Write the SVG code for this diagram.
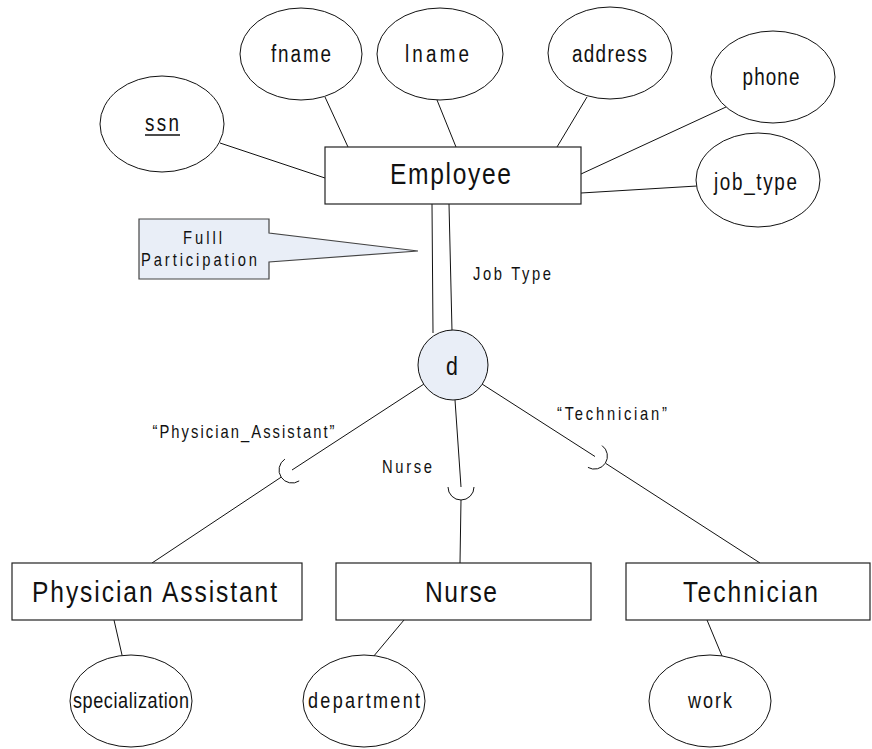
<svg xmlns="http://www.w3.org/2000/svg" width="872" height="749" viewBox="0 0 872 749">
  <style>
    text { font-family: "Liberation Sans", Arial, sans-serif; fill: #111; text-anchor: middle; }
    .ent { font-size: 30px; }
    .att { font-size: 23px; }
    .att2 { font-size: 22px; }
    .lbl { font-size: 18px; }
    .box { fill: #fff; stroke: #222; stroke-width: 1.2; }
    .oval { fill: #fff; stroke: #111; stroke-width: 1; }
    .ln { fill: none; stroke: #111; stroke-width: 1; }
    .note { fill: #e9eef7; stroke: #444; stroke-width: 1.2; }
  </style>

  <!-- Text is condensed horizontally (scale 0.82 about its centre x) to get a narrow face -->

  <!-- connectors -->
  <g id="connectors" class="ln">
    <line x1="220" y1="143" x2="325" y2="178"/>
    <line x1="325" y1="97" x2="348" y2="147"/>
    <line x1="437" y1="100" x2="456" y2="147"/>
    <line x1="587" y1="97" x2="557" y2="147"/>
    <line x1="726" y1="107" x2="581" y2="174"/>
    <line x1="581" y1="193" x2="697" y2="186"/>
    <!-- total participation: double line to the disjoint circle -->
    <line x1="432" y1="204" x2="433" y2="333"/>
    <line x1="449" y1="204" x2="452" y2="331"/>
    <!-- subclass branches with subset marks -->
    <line x1="424" y1="384" x2="292" y2="470"/>
    <path d="M299.2,480.9 A13,13 0 0 1 284.9,459.1"/>
    <line x1="281.1" y1="477.2" x2="152" y2="563"/>
    <line x1="455" y1="400" x2="461" y2="487"/>
    <path d="M474,487 A13,13 0 0 1 448,487"/>
    <line x1="461" y1="500" x2="460" y2="563"/>
    <line x1="482" y1="384" x2="595" y2="456.5"/>
    <path d="M587.95,467.4 A13,13 0 0 0 602.05,445.6"/>
    <line x1="605.9" y1="463.5" x2="760" y2="563"/>
    <!-- subclass attributes -->
    <line x1="114" y1="620" x2="122" y2="655"/>
    <line x1="404" y1="620" x2="373" y2="657"/>
    <line x1="707" y1="620" x2="722" y2="656"/>
  </g>

  <!-- Employee entity and attributes -->
  <g id="employee">
    <rect class="box" x="325" y="147" width="256" height="57"/>
    <text class="ent" x="450.5" y="184" transform="matrix(0.82 0 0 1 81.09 0)" textLength="147.6" lengthAdjust="spacing">Employee</text>
  </g>
  <g id="ssn">
    <ellipse class="oval" cx="162" cy="124" rx="62" ry="48"/>
    <text class="att" x="162" y="131" transform="matrix(0.82 0 0 1 29.16 0)" textLength="41.5" lengthAdjust="spacing">ssn</text>
    <!-- key underline -->
    <line x1="145" y1="135" x2="180" y2="135" stroke="#111" stroke-width="1.3"/>
  </g>
  <g id="fname">
    <ellipse class="oval" cx="301" cy="54" rx="61" ry="46"/>
    <text class="att" x="301" y="62" transform="matrix(0.82 0 0 1 54.18 0)" textLength="73.2" lengthAdjust="spacing">fname</text>
  </g>
  <g id="lname">
    <ellipse class="oval" cx="440" cy="54" rx="63" ry="46"/>
    <text class="att" x="437" y="62" transform="matrix(0.82 0 0 1 78.66 0)" textLength="78" lengthAdjust="spacing">lname</text>
  </g>
  <g id="address">
    <ellipse class="oval" cx="610" cy="53" rx="62" ry="46"/>
    <text class="att" x="609.5" y="62" transform="matrix(0.82 0 0 1 109.71 0)" textLength="91.5" lengthAdjust="spacing">address</text>
  </g>
  <g id="phone">
    <ellipse class="oval" cx="773" cy="77" rx="62" ry="46"/>
    <text class="att" x="771" y="85" transform="matrix(0.82 0 0 1 138.78 0)" textLength="69.5" lengthAdjust="spacing">phone</text>
  </g>
  <g id="job_type">
    <ellipse class="oval" cx="758" cy="180" rx="62" ry="47"/>
    <text class="att" x="755.5" y="190" transform="matrix(0.82 0 0 1 135.99 0)" textLength="101.2" lengthAdjust="spacing">job_type</text>
  </g>

  <!-- callout -->
  <g id="callout">
    <path class="note" d="M139,219 H269 V233 L418,251 L269,262 V279 H139 Z"/>
    <text class="lbl" x="202.5" y="244" font-size="19" transform="matrix(0.82 0 0 1 36.45 0)" textLength="47.6" lengthAdjust="spacing">Fulll</text>
    <text class="lbl" x="199" y="266" font-size="19" transform="matrix(0.82 0 0 1 35.82 0)" textLength="141.5" lengthAdjust="spacing">Participation</text>
  </g>

  <g id="job_type_label">
    <text class="lbl" x="512" y="280" transform="matrix(0.82 0 0 1 92.16 0)" textLength="95.1" lengthAdjust="spacing">Job Type</text>
  </g>

  <!-- disjoint specialization circle -->
  <g id="disjoint">
    <circle cx="453" cy="365" r="35" fill="#e9eef7" stroke="#111" stroke-width="1"/>
    <text x="452" y="375" font-size="26" transform="matrix(0.82 0 0 1 81.36 0)">d</text>
  </g>

  <!-- defining-attribute values -->
  <g id="branch_labels">
    <text class="lbl" x="243.5" y="438" transform="matrix(0.82 0 0 1 43.83 0)" textLength="222" lengthAdjust="spacing">“Physician_Assistant”</text>
    <text class="lbl" x="407" y="473" transform="matrix(0.82 0 0 1 73.26 0)" textLength="61" lengthAdjust="spacing">Nurse</text>
    <text class="lbl" x="612" y="420" transform="matrix(0.82 0 0 1 110.16 0)" textLength="134" lengthAdjust="spacing">“Technician”</text>
  </g>

  <!-- subclasses -->
  <g id="physician_assistant">
    <rect class="box" x="12" y="563" width="290" height="57"/>
    <text class="ent" x="154.5" y="602" transform="matrix(0.82 0 0 1 27.81 0)" textLength="298.8" lengthAdjust="spacing">Physician Assistant</text>
  </g>
  <g id="nurse">
    <rect class="box" x="336" y="563" width="255" height="57"/>
    <text class="ent" x="461" y="602" transform="matrix(0.82 0 0 1 82.98 0)" textLength="87.8" lengthAdjust="spacing">Nurse</text>
  </g>
  <g id="technician">
    <rect class="box" x="626" y="563" width="244" height="57"/>
    <text class="ent" x="750.5" y="602" transform="matrix(0.82 0 0 1 135.09 0)" textLength="164.6" lengthAdjust="spacing">Technician</text>
  </g>

  <!-- subclass attributes -->
  <g id="specialization">
    <ellipse class="oval" cx="131" cy="701" rx="61" ry="46"/>
    <text class="att2" x="131" y="708" transform="matrix(0.82 0 0 1 23.58 0)" textLength="141.5" lengthAdjust="spacing">specialization</text>
  </g>
  <g id="department">
    <ellipse class="oval" cx="364" cy="701" rx="61" ry="46"/>
    <text class="att2" x="364" y="708" transform="matrix(0.82 0 0 1 65.52 0)" textLength="136.6" lengthAdjust="spacing">department</text>
  </g>
  <g id="work">
    <ellipse class="oval" cx="710" cy="701" rx="61" ry="46"/>
    <text class="att2" x="710" y="708" transform="matrix(0.82 0 0 1 127.8 0)" textLength="53.7" lengthAdjust="spacing">work</text>
  </g>
</svg>
